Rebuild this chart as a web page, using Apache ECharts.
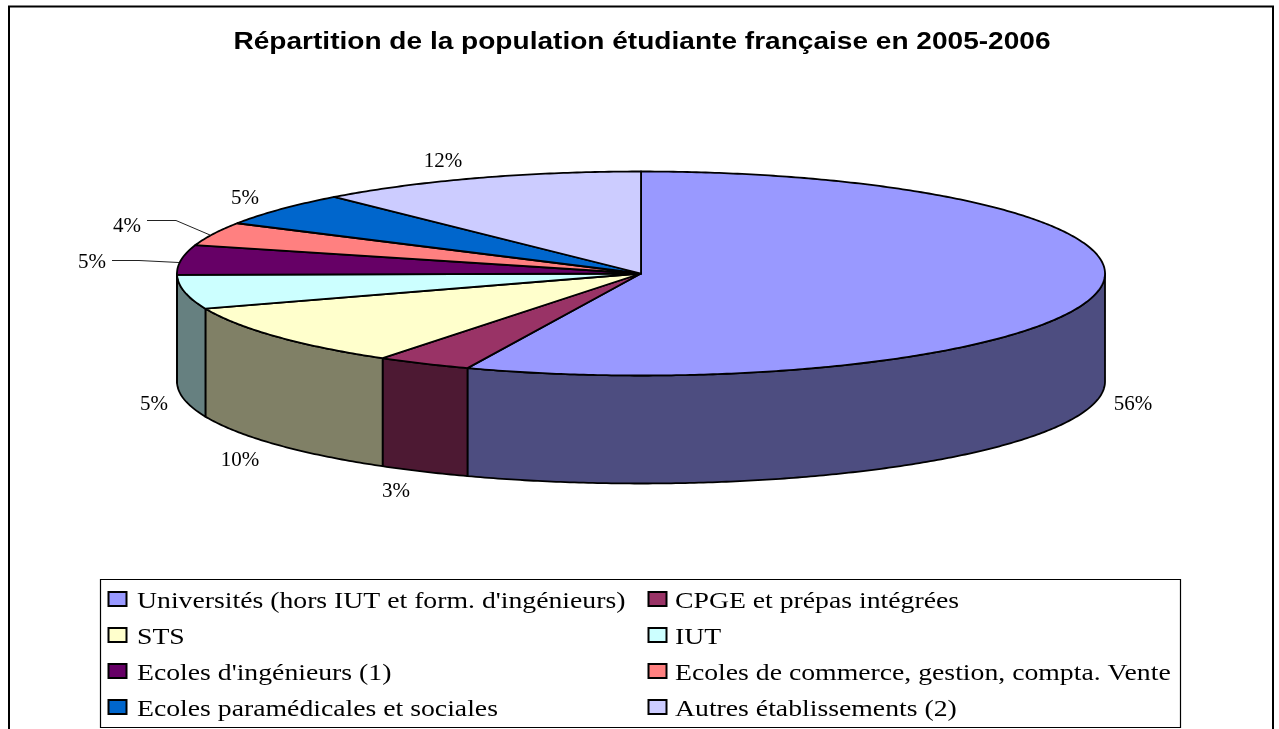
<!DOCTYPE html>
<html><head><meta charset="utf-8">
<style>html,body{margin:0;padding:0;background:#fff}#c{width:1279px;height:729px}</style>
<script src="https://cdn.jsdelivr.net/npm/echarts@6/dist/echarts.min.js"></script>
</head><body><div id="c"></div>
<script>
const chartTitle = 'Répartition de la population étudiante française en 2005-2006';
const categories = ["Universités (hors IUT et form. d'ingénieurs)","CPGE et prépas intégrées","STS","IUT","Ecoles d'ingénieurs (1)","Ecoles de commerce, gestion, compta. Vente","Ecoles paramédicales et sociales","Autres établissements (2)"];
const shares = [56.1,3.3,10.0,5.4,4.7,3.7,5.3,11.5];
const colors = ['#9999FF','#993366','#FFFFCC','#CCFFFF','#660066','#FF8080','#0066CC','#CCCCFF'];
const wallColors = ['#4D4D80','#4D1933','#808066','#668080','#330033','#804040','#003366','#666680'];
const labelAnchors = [[1133,404],[396,491],[240,460],[154,404],[92,262],[127,226],[245,198],[443,161]];
const leaders = {4:[[112,260.5],[139,260.5],[179,262.5]],5:[[147,220.5],[176,220.5],[210,235]]};
const pie = {cx:641,cy:273.5,rx:464,ry:102,depth:108};
const SERIF='"Liberation Serif","Times New Roman",serif';
const SANS='"Liberation Sans",Arial,sans-serif';
const total = shares.reduce((a,b)=>a+b,0);
const starts = shares.reduce((acc,v,i)=>{acc.push(i?acc[i-1]+shares[i-1]:0);return acc;},[]);
const rad = p => p/total*2*Math.PI;
const pt = (t,dz=0)=>[pie.cx+pie.rx*Math.sin(t),pie.cy-pie.ry*Math.cos(t)+dz];
function arc(a,b,dz){const out=[];const n=Math.max(2,Math.ceil((b-a)/0.01));for(let k=0;k<=n;k++)out.push(pt(a+(b-a)*k/n,dz));return out;}
const edge={stroke:'#000',lineWidth:1.8,lineJoin:'round'};
function renderSlice(params,api){
  const i=params.dataIndex,v=api.value(0);
  const a=rad(starts[i]),b=a+rad(v);
  const children=[];
  const la=Math.max(a,Math.PI/2),lb=Math.min(b,3*Math.PI/2);
  if(lb>la){
    const top=arc(la,lb,0),bottom=arc(la,lb,pie.depth).reverse();
    children.push({type:'polygon',z2:1,shape:{points:top.concat(bottom)},style:Object.assign({fill:wallColors[i]},edge)});
  }
  children.push({type:'polygon',z2:5,shape:{points:[[pie.cx,pie.cy]].concat(arc(a,b,0))},style:Object.assign({fill:colors[i]},edge)});
  if(leaders[i])children.push({type:'polyline',z2:6,shape:{points:leaders[i]},style:{stroke:'#222',lineWidth:1,fill:null}});
  children.push({type:'text',z2:7,x:labelAnchors[i][0],y:labelAnchors[i][1],style:{text:Math.round(v)+'%',font:'21px '+SERIF,fill:'#000',align:'center',verticalAlign:'middle'}});
  return {type:'group',children};
}
const legendX=[[108.5,137],[648.5,675]], legendRowY=[600,636,672,708];
const legendItems=categories.flatMap((name,i)=>{
  const col=i%2,row=(i-col)/2,[sx,tx]=legendX[col],y=legendRowY[row];
  return [
    {type:'rect',z:2,shape:{x:sx,y:y-8,width:18,height:14},style:{fill:colors[i],stroke:'#000',lineWidth:2}},
    {type:'text',z:2,x:tx,y:y+2,scaleX:1.155,style:{text:name,font:'24px '+SERIF,fill:'#000',align:'left',verticalAlign:'middle'}}
  ];
});
const chart=echarts.init(document.getElementById('c'),null,{renderer:'canvas'});
chart.setOption({
  animation:false,backgroundColor:'#fff',
  graphic:[
    {type:'polyline',z:0,shape:{points:[[9,729],[9,6.5],[1273,6.5],[1273,729]]},style:{stroke:'#000',lineWidth:2,fill:null}},
    {type:'rect',z:1,shape:{x:100.5,y:579.5,width:1080,height:148},style:{stroke:'#000',lineWidth:1.2,fill:'#fff'}},
    {type:'text',z:2,x:642,y:43,scaleX:1.22,style:{text:chartTitle,font:'bold 23px '+SANS,fill:'#000',align:'center',verticalAlign:'middle'}}
  ].concat(legendItems),
  series:[{type:'custom',name:'Population étudiante',coordinateSystem:'none',silent:true,renderItem:renderSlice,
    data:categories.map((name,i)=>({name,value:[shares[i]]}))}]
});
</script></body></html>
